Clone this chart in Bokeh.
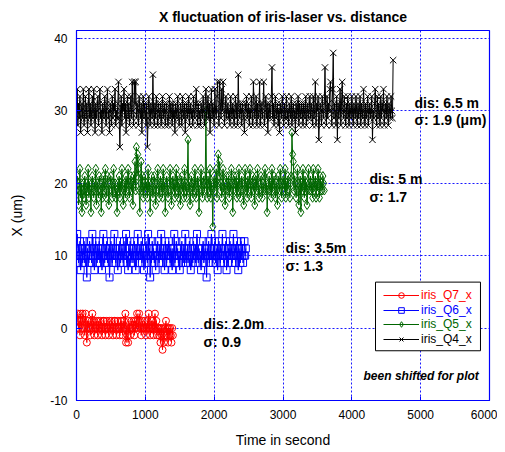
import numpy as np
from bokeh.plotting import figure
from bokeh.models import Range1d, FixedTicker, Label, Legend, LegendItem, BoxAnnotation
from bokeh.embed import file_html
from bokeh.resources import INLINE

# sampling interval of the recordings (seconds)
DT = 10

# iris_Q7_x (dis 2.0 m), shifted to 0
q7_x = [0, 1, 2, 0, 1, -1, 2, 1, 0, 2,
        1, 0, -1, 2, 0, -2, 1, 0, 1, 0,
        -1, 0, 1, 2, 0, 1, -1, 0, 0, 1,
        0, -1, 1, 0, 0, 1, 0, -1, 0, 1,
        1, 0, -1, 0, 1, 0, 0, -1, 1, 0,
        0, 1, 0, -1, 0, 1, 1, 0, -1, 0,
        1, 0, 0, -1, 1, 0, 1, -1, 0, 1,
        0, 2, -2, 0, -1, -2, 1, 0, -1, 0,
        1, 0, 0, 1, -1, 0, 1, 0, 2, 1,
        0, 2, 1, 0, -1, 0, 1, 0, 0, 1,
        0, -1, 0, 1, 0, 2, 0, -1, 0, 1,
        0, 1, -1, 0, 2, 0, 1, -1, 0, 0,
        -1, 0, -2, 0, -1, -3, 0, -2, -1, 0,
        1, -1, 0, -2, 0, -1, 0, -1, -2, 0,
        -1]

# iris_Q6_x (dis 3.5 m), shifted to 10
q6_x = [10, 13, 11, 9, 10, 12, 8, 10, 11, 9,
        10, 12, 9, 11, 10, 7, 11, 10, 9, 12,
        11, 10, 9, 13, 10, 11, 8, 10, 12, 10,
        9, 11, 10, 12, 9, 10, 11, 8, 10, 13,
        10, 9, 11, 10, 12, 9, 10, 11, 7, 10,
        12, 10, 9, 11, 10, 13, 10, 9, 11, 10,
        8, 11, 10, 12, 9, 10, 11, 10, 9, 12,
        10, 11, 13, 9, 10, 8, 11, 10, 12, 9,
        10, 11, 9, 10, 12, 10, 8, 11, 10, 13,
        9, 10, 11, 10, 12, 9, 10, 11, 8, 10,
        11, 12, 10, 9, 13, 10, 11, 7, 10, 9,
        12, 10, 11, 9, 10, 8, 11, 10, 12, 10,
        9, 11, 10, 13, 10, 9, 11, 10, 8, 12,
        10, 9, 11, 10, 12, 10, 9, 11, 10, 8,
        11, 10, 13, 9, 10, 12, 10, 11, 9, 10,
        8, 11, 10, 12, 10, 9, 11, 10, 13, 9,
        10, 11, 9, 10, 12, 10, 8, 11, 10, 9,
        12, 10, 11, 9, 10, 13, 10, 9, 11, 10,
        10, 8, 11, 10, 12, 9, 10, 11, 10, 7,
        11, 10, 12, 9, 10, 11, 13, 10, 9, 11,
        10, 12, 9, 10, 11, 8, 10, 12, 10, 9,
        11, 10, 13, 10, 9, 11, 10, 12, 8, 10,
        9, 11, 10, 12, 10, 11, 9, 10, 13, 10,
        11, 9, 10, 12, 10, 8, 11, 10, 9, 12,
        10, 11, 9, 10, 12, 10, 11]

# iris_Q5_x (dis 5 m), shifted to 20
q5_x = [19, 21, 20, 17, 19, 22, 18, 20, 16, 19,
        20, 18, 21, 19, 17, 20, 19, 22, 18, 20,
        19, 16, 20, 21, 19, 18, 20, 19, 22, 17,
        20, 19, 18, 21, 20, 19, 16, 20, 18, 21,
        19, 20, 22, 18, 19, 21, 20, 17, 19, 20,
        21, 19, 18, 20, 22, 19, 20, 18, 19, 16,
        20, 19, 21, 18, 20, 19, 22, 20, 17, 19,
        20, 18, 21, 19, 20, 22, 19, 18, 20, 21,
        19, 20, 17, 21, 20, 23, 19, 25, 21, 24,
        22, 19, 16, 20, 23, 19, 21, 18, 20, 19,
        21, 19, 20, 18, 22, 19, 20, 16, 19, 21,
        20, 18, 19, 21, 20, 17, 19, 20, 22, 19,
        18, 20, 21, 19, 20, 18, 22, 19, 20, 16,
        19, 21, 20, 18, 19, 20, 22, 19, 17, 20,
        21, 19, 20, 18, 20, 22, 19, 21, 18, 20,
        19, 17, 20, 21, 19, 20, 18, 22, 19, 20,
        18, 21, 26, 19, 20, 17, 19, 21, 20, 18,
        20, 19, 22, 20, 18, 19, 21, 20, 16, 19,
        20, 22, 19, 18, 20, 21, 19, 20, 30, 19,
        18, 21, 20, 19, 22, 18, 20, 19, 14, 20,
        21, 19, 20, 22, 18, 20, 24, 21, 23, 19,
        20, 18, 21, 22, 19, 20, 17, 19, 21, 20,
        19, 21, 18, 20, 19, 22, 20, 16, 19, 21,
        20, 19, 21, 18, 20, 19, 22, 20, 18, 19,
        21, 20, 19, 17, 20, 22, 19, 20, 18, 21,
        19, 20, 22, 19, 18, 20, 21, 19, 20, 17,
        20, 21, 19, 22, 20, 18, 19, 20, 21, 19,
        18, 20, 19, 21, 22, 19, 20, 16, 19, 20,
        21, 19, 20, 18, 22, 19, 20, 21, 19, 18,
        20, 19, 17, 21, 20, 19, 22, 20, 18, 19,
        21, 20, 19, 22, 18, 20, 19, 21, 20, 19,
        18, 20, 21, 27, 24, 23, 19, 21, 20, 18,
        19, 22, 20, 17, 19, 21, 16, 20, 19, 22,
        20, 18, 21, 19, 20, 17, 19, 22, 20, 19,
        21, 19, 20, 18, 22, 19, 20, 21, 18, 20,
        19, 22, 20, 18, 21, 19, 20, 19, 21, 20,
        19]

# iris_Q4_x (dis 6.5 m), shifted to 30
q4_x = [30, 33, 28, 31, 29, 32, 27, 30, 31, 29,
        33, 28, 30, 32, 29, 31, 27, 30, 33, 29,
        31, 28, 30, 32, 29, 33, 30, 27, 31, 29,
        30, 32, 28, 31, 33, 29, 30, 27, 31, 30,
        29, 32, 30, 28, 31, 33, 29, 30, 27, 31,
        30, 28, 32, 29, 31, 30, 33, 28, 30, 29,
        31, 34, 29, 25, 30, 32, 28, 31, 30, 33,
        29, 31, 27, 30, 32, 29, 31, 28, 30, 32,
        29, 34, 30, 28, 34, 31, 34, 29, 31, 30,
        28, 32, 30, 29, 31, 27, 30, 32, 29, 31,
        30, 28, 31, 25, 29, 32, 30, 28, 31, 30,
        29, 35, 30, 28, 31, 29, 32, 30, 28, 31,
        30, 29, 31, 28, 30, 32, 29, 30, 31, 28,
        30, 31, 29, 28, 30, 32, 29, 31, 30, 28,
        31, 29, 30, 27, 31, 30, 29, 32, 30, 28,
        29, 31, 30, 28, 32, 30, 29, 31, 27, 30,
        31, 29, 30, 32, 28, 30, 31, 29, 30, 28,
        32, 30, 29, 31, 33, 30, 28, 31, 29, 30,
        28, 31, 30, 29, 32, 30, 28, 31, 33, 29,
        30, 32, 29, 31, 27, 30, 33, 29, 31, 30,
        28, 33, 30, 29, 32, 34, 30, 28, 34, 31,
        29, 33, 30, 34, 31, 28, 30, 32, 29, 30,
        31, 29, 30, 28, 32, 30, 29, 31, 30, 28,
        30, 32, 29, 31, 28, 35, 30, 29, 31, 30,
        28, 31, 30, 29, 27, 31, 30, 32, 29, 30,
        31, 28, 30, 29, 32, 30, 28, 34, 31, 29,
        30, 32, 28, 31, 29, 30, 34, 28, 31, 30,
        29, 31, 34, 28, 30, 32, 29, 31, 27, 30,
        31, 29, 30, 32, 36, 29, 31, 28, 30, 32,
        29, 30, 31, 28, 30, 27, 31, 30, 29, 32,
        30, 28, 31, 29, 30, 32, 29, 30, 28, 31,
        30, 29, 32, 28, 30, 31, 29, 30, 27, 31,
        29, 30, 32, 28, 31, 30, 29, 31, 30, 28,
        31, 30, 29, 32, 28, 30, 31, 29, 30, 32,
        29, 31, 30, 28, 32, 29, 30, 34, 28, 31,
        30, 32, 26, 29, 31, 30, 28, 32, 30, 29,
        31, 36, 30, 28, 32, 29, 31, 30, 33, 34,
        30, 28, 33, 38, 29, 31, 30, 28, 32, 26,
        31, 29, 30, 33, 28, 31, 34, 30, 29, 32,
        30, 28, 31, 29, 32, 30, 28, 31, 30, 29,
        32, 30, 28, 31, 30, 29, 32, 30, 28, 31,
        29, 30, 32, 28, 31, 30, 29, 33, 30, 28,
        31, 29, 30, 32, 28, 30, 31, 29, 30, 32,
        26, 30, 29, 31, 33, 30, 28, 32, 29, 31,
        30, 28, 32, 29, 31, 30, 33, 28, 30, 31,
        29, 32, 30, 28, 31, 30, 29, 32, 30, 29,
        37]

x_ticks = [0, 1000, 2000, 3000, 4000, 5000, 6000]
y_ticks = [-10, 0, 10, 20, 30, 40]

series = [
    ("iris_Q7_x", q7_x, "#ff0000", "circle", 7),
    ("iris_Q6_x", q6_x, "#0000ff", "square", 7),
    ("iris_Q5_x", q5_x, "#006600", "diamond", 9),
    ("iris_Q4_x", q4_x, "#000000", "x", 9),
]

FONT = "Liberation Sans"
BLUE = "#0000ff"

p = figure(width=497, height=450, output_backend="svg", toolbar_location=None,
           x_range=Range1d(0, 6000), y_range=Range1d(-10, 41.1),
           min_border_left=76, min_border_right=8, min_border_top=30, min_border_bottom=48)

p.title.text = "X fluctuation of iris-laser vs. distance"
p.title.text_font = FONT
p.title.text_font_size = "14px"
p.title.text_font_style = "bold"
p.title.text_color = "#000000"
p.title.align = "center"
p.title.offset = -5
p.title.standoff = 12

p.background_fill_color = "white"
p.outline_line_color = BLUE
p.outline_line_width = 1.2

for ax in (p.xaxis, p.yaxis):
    ax.axis_line_color = BLUE
    ax.major_tick_line_color = BLUE
    ax.major_tick_in = 4
    ax.major_tick_out = 0
    ax.minor_tick_line_color = None
    ax.major_label_text_font = FONT
    ax.major_label_text_font_size = "12px"
    ax.major_label_text_color = "#000000"
    ax.axis_label_text_font = FONT
    ax.axis_label_text_font_size = "14px"
    ax.axis_label_text_font_style = "normal"
    ax.axis_label_text_color = "#000000"
p.xaxis.ticker = FixedTicker(ticks=x_ticks)
p.yaxis.ticker = FixedTicker(ticks=y_ticks)
p.yaxis.major_label_overrides = {-10: "-10"}
p.xaxis.major_label_standoff = 9
p.yaxis.major_label_standoff = 9
p.xaxis.axis_label = "Time in second"
p.yaxis.axis_label = "X (um)"
p.xaxis.axis_label_standoff = 10
p.yaxis.axis_label_standoff = 22

for g in (p.xgrid, p.ygrid):
    g.grid_line_color = BLUE
    g.grid_line_dash = "2 2"
    g.grid_line_width = 1
    g.grid_line_alpha = 0.9
p.xgrid.ticker = FixedTicker(ticks=x_ticks)
p.ygrid.ticker = FixedTicker(ticks=y_ticks)

renderers = []
for name, vals, color, marker, size in series:
    t = [i * DT for i in range(len(vals))]
    rl = p.line(t, vals, line_color=color, line_width=1)
    rm = p.scatter(t, vals, marker=marker, size=size, line_color=color,
                   fill_color=None, line_width=1)
    renderers.append((name, color, rl, rm))

# annotations
def txt(x, y, s, size="14px", style="bold"):
    p.add_layout(Label(x=x, y=y, text=s, text_font=FONT, text_font_size=size,
                       text_font_style=style, text_align="left",
                       text_baseline="middle", text_color="black"))

txt(4910, 31.07, "dis: 6.5 m")
txt(4910, 28.74, "σ: 1.9 (μm)")
txt(4257, 20.63, "dis: 5 m")
txt(4257, 18.16, "σ: 1.7")
txt(3036, 11.02, "dis: 3.5m")
txt(3036, 8.54, "σ: 1.3")
txt(1845, 0.58, "dis: 2.0m")
txt(1845, -1.9, "σ: 0.9")
txt(4170, -6.57, "been shifted for plot", size="12px", style="bold italic")

# legend box
p.add_layout(BoxAnnotation(left=4344, right=5869, top=6.35, bottom=-3.13,
                           fill_color="white", fill_alpha=1,
                           line_color="black", line_width=1, line_alpha=1))

offsets = [98, 83.5, 69, 54.5]
for (name, color, rl, rm), yo in zip(renderers, offsets):
    leg = Legend(items=[LegendItem(label=name, renderers=[rl, rm])],
                 location=(307, yo), padding=0, margin=0, spacing=0,
                 glyph_width=36, glyph_height=14, label_height=14,
                 label_standoff=2, label_text_color=color,
                 label_text_font=FONT, label_text_font_size="12px",
                 border_line_alpha=0, background_fill_alpha=0)
    p.add_layout(leg)

open("out.html", "w").write(file_html(p, INLINE))
